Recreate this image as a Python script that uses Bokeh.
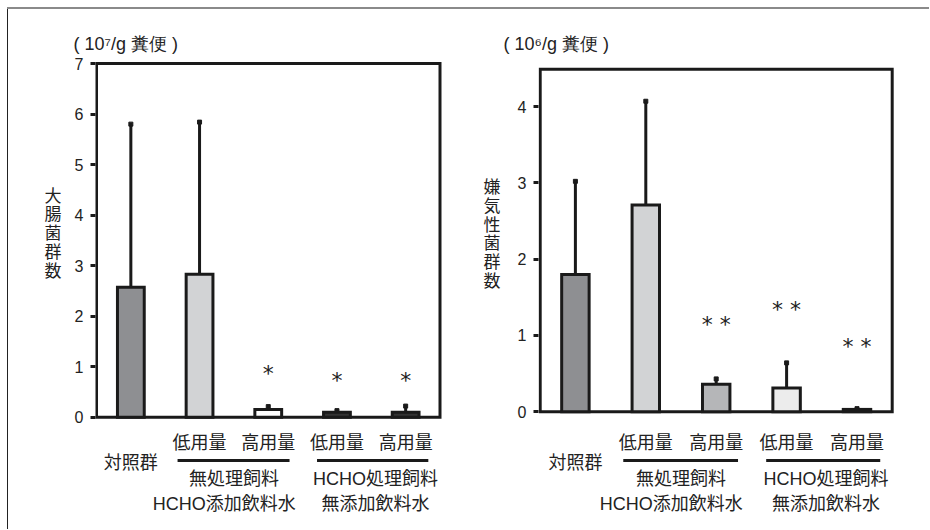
from bokeh.plotting import figure
from bokeh.models import Range1d, FixedTicker, LinearAxis, Spacer
from bokeh.layouts import row, column
from bokeh.embed import file_html
from bokeh.resources import INLINE
from bokeh.core.properties import value

# ---------------- data ----------------
categories = ["対照群", "無処理飼料・低用量", "無処理飼料・高用量",
              "HCHO処理飼料・低用量", "HCHO処理飼料・高用量"]
dose_labels = ["", "低用量", "高用量", "低用量", "高用量"]
control_label = "対照群"
group_line1 = ["無処理飼料", "HCHO処理飼料"]
group_line2 = ["HCHO添加飲料水", "無添加飲料水"]

coliform_mean = [2.57, 2.83, 0.15, 0.10, 0.10]
coliform_upper = [5.80, 5.84, 0.21, 0.13, 0.22]
coliform_sig = ["", "", "*", "*", "*"]
coliform_sig_y = [0, 0, 0.91, 0.77, 0.77]
coliform_ticks = [0, 1, 2, 3, 4, 5, 6, 7]
coliform_ymax = 7.0
coliform_unit = "( 10⁷/g 糞便 )"
coliform_ylabel = "大腸菌群数"

anaerobe_mean = [1.80, 2.71, 0.36, 0.31, 0.03]
anaerobe_upper = [3.02, 4.07, 0.43, 0.64, 0.04]
anaerobe_sig = ["", "", "* *", "* *", "* *"]
anaerobe_sig_y = [0, 0, 1.17, 1.36, 0.88]
anaerobe_ticks = [0, 1, 2, 3, 4]
anaerobe_ymax = 4.49
anaerobe_unit = "( 10⁶/g 糞便 )"
anaerobe_ylabel = "嫌気性菌群数"

# ---------------- styles / geometry (page pixels) ----------------
INK = "#1a1a1a"
TXT = "#222222"
LAT = "Liberation Sans"
CJK = "Noto Sans CJK JP"
MIX = "Liberation Sans, Noto Sans CJK JP"
left_fills = ["#8e8f92", "#d2d3d5", "#ffffff", "#333333", "#333333"]
right_fills = ["#8e8f92", "#d2d3d5", "#b5b6b8", "#ececec", "#333333"]

FIG_Y0 = 9            # page y where the figures start
FIG_H = 520
FRAME_TOP = 60        # page y of the (shared) plot frame top
FRAME_BOTTOM = FIG_Y0 + FIG_H
ROW_DOSE, ROW_CTRL, ROW_G1, ROW_G2 = 440, 460, 478, 503

n = len(categories)
xpos = [i + 0.5 for i in range(n)]
line_spans = [(1.18, 2.81), (3.21, 4.83)]
g1_x = [2.0, 4.06]
g2_x = [1.86, 4.06]


def make_chart(mean, upper, sig, sig_y, ymax, ticks, unit_text, ylabel_text, fills,
               fig_x0, fig_w, frame_left, box_l, box_r, zero_y, top_y,
               title_dx, ylab_y, ylab_standoff):
    ppx = (box_r - box_l) / n
    ppu = (zero_y - top_y) / ymax
    x0 = -(box_l - frame_left) / ppx
    x1 = n + (fig_x0 + fig_w - box_r) / ppx
    y0 = -(FRAME_BOTTOM - zero_y) / ppu
    y1 = ymax + (top_y - FRAME_TOP) / ppu

    def yd(py):
        return (zero_y - py) / ppu

    p = figure(x_range=Range1d(x0, x1), y_range=Range1d(y0, y1),
               width=fig_w, height=FIG_H,
               min_border_left=frame_left - fig_x0, min_border_right=0,
               min_border_top=FRAME_TOP - FIG_Y0, min_border_bottom=0,
               x_axis_type=None, y_axis_type=None,
               output_backend="svg", toolbar_location=None)
    p.background_fill_color = "white"
    p.border_fill_color = "white"
    p.outline_line_color = None
    p.xgrid.visible = False
    p.ygrid.visible = False

    # unit text as the title
    p.title.text = unit_text
    p.title.align = "left"
    p.title.offset = title_dx
    p.title.standoff = 14
    p.title.text_font = LAT
    p.title.text_font_size = "18px"
    p.title.text_font_style = "normal"
    p.title.text_color = TXT

    # y axis, limited to the plotting box
    ax = LinearAxis(ticker=FixedTicker(ticks=ticks), bounds=(0, ymax))
    ax.axis_line_color = None
    ax.minor_tick_line_color = None
    ax.major_tick_in = 0
    ax.major_tick_out = 5
    ax.major_tick_line_width = 3
    ax.major_tick_line_color = INK
    ax.major_label_standoff = 7
    ax.major_label_text_font = LAT
    ax.major_label_text_font_size = "16px"
    ax.major_label_text_color = TXT
    p.add_layout(ax, "left")

    # vertical (stacked) y-axis title, as an outer label axis
    yc = round(yd(ylab_y), 4)
    lab = LinearAxis(ticker=FixedTicker(ticks=[yc]),
                     major_label_overrides={yc: "\n".join(ylabel_text)})
    lab.axis_line_color = None
    lab.major_tick_line_color = None
    lab.minor_tick_line_color = None
    lab.major_tick_in = 0
    lab.major_tick_out = 0
    lab.major_label_standoff = ylab_standoff
    lab.major_label_text_font = CJK
    lab.major_label_text_font_size = "17px"
    lab.major_label_text_color = TXT
    lab.major_label_text_line_height = 0.75
    p.add_layout(lab, "left")

    # plotting box
    p.quad(left=[0], right=[n], bottom=[0], top=[ymax], fill_color=None,
           line_color=INK, line_width=3, line_join="miter")

    # error bars (upper only) + caps
    p.segment(x0=xpos, y0=mean, x1=xpos, y1=upper, line_color=INK, line_width=3)
    p.scatter(x=xpos, y=upper, marker="square", size=4,
              fill_color=INK, line_color=INK, line_width=1)
    # bars
    p.vbar(x=xpos, top=mean, width=0.39, bottom=0, fill_color=fills,
           line_color=INK, line_width=3, line_join="miter")

    # significance marks
    sx = [x for x, s in zip(xpos, sig) if s]
    sy = [y for y, s in zip(sig_y, sig) if s]
    st = [s for s in sig if s]
    p.text(x=sx, y=sy, text=st, text_align="center", text_baseline="middle",
           y_offset=2, text_font=value("DejaVu Sans"), text_font_size="22px",
           text_color=TXT)

    # category labels under the box
    dx = [x for x, d in zip(xpos, dose_labels) if d]
    dt = [d for d in dose_labels if d]
    p.text(x=dx, y=[yd(ROW_DOSE)] * len(dx), text=dt, text_align="center",
           text_baseline="middle", text_font=value(CJK), text_font_size="18px",
           text_color=TXT)
    p.text(x=[xpos[0]], y=[yd(ROW_CTRL)], text=[control_label], text_align="center",
           text_baseline="middle", text_font=value(CJK), text_font_size="18px",
           text_color=TXT)
    p.segment(x0=[a for a, b in line_spans], x1=[b for a, b in line_spans],
              y0=[yd(ROW_CTRL)] * 2, y1=[yd(ROW_CTRL)] * 2,
              line_color=INK, line_width=3)
    p.text(x=g1_x, y=[yd(ROW_G1)] * 2, text=group_line1, text_align="center",
           text_baseline="middle", text_font=value(MIX), text_font_size="18px",
           text_color=TXT)
    p.text(x=g2_x, y=[yd(ROW_G2)] * 2, text=group_line2, text_align="center",
           text_baseline="middle", text_font=value(MIX), text_font_size="18px",
           text_color=TXT)
    return p


p1 = make_chart(coliform_mean, coliform_upper, coliform_sig, coliform_sig_y,
                coliform_ymax, coliform_ticks, coliform_unit, coliform_ylabel, left_fills,
                fig_x0=8, fig_w=457, frame_left=95, box_l=96, box_r=439.5,
                zero_y=416.7, top_y=63, title_dx=-22, ylab_y=231, ylab_standoff=10)
p2 = make_chart(anaerobe_mean, anaerobe_upper, anaerobe_sig, anaerobe_sig_y,
                anaerobe_ymax, anaerobe_ticks, anaerobe_unit, anaerobe_ylabel, right_fills,
                fig_x0=465, fig_w=464, frame_left=538, box_l=539.7, box_r=891.7,
                zero_y=411.2, top_y=68.7, title_dx=-35, ylab_y=232, ylab_standoff=14)

layout = column(
    Spacer(width=929, height=7),
    row(Spacer(width=7, height=2),
        Spacer(width=922, height=2, styles={"background-color": "#8a8a8a"})),
    row(Spacer(width=7, height=FIG_H),
        Spacer(width=1, height=FIG_H, styles={"background-color": "#222222"}),
        p1, p2),
)

open("out.html", "w").write(file_html(layout, INLINE))
